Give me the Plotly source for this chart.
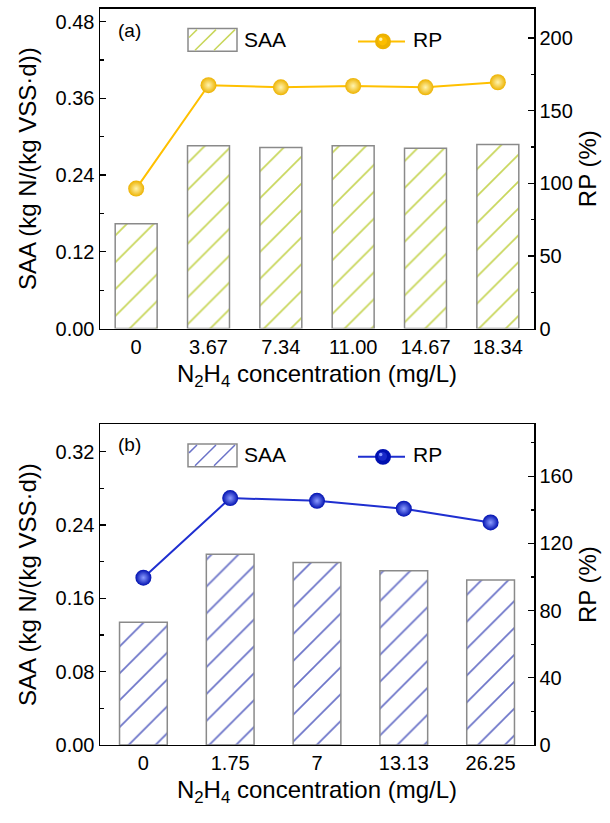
import plotly.graph_objects as go

# ---------------- data ----------------
conc_a = ["0", "3.67", "7.34", "11.00", "14.67", "18.34"]
saa_a = [0.164, 0.286, 0.283, 0.286, 0.282, 0.288]
rp_a = [96.3, 167.5, 166.0, 167.0, 166.0, 169.5]

conc_b = ["0", "1.75", "7", "13.13", "26.25"]
saa_b = [0.134, 0.208, 0.199, 0.190, 0.180]
rp_b = [99.6, 147.0, 145.4, 140.7, 132.5]

# ---------------- style ----------------
W, H = 610, 823
FONT = "Liberation Sans, Arial, sans-serif"
TICK = 20
TITLE = 24
LEG = 21

hatch_a = "#c8d65a"
line_a = "#FFC000"
mk_a = "#EDB200"
mkc_a = "#FFF4B0"

hatch_b = "#6b73c8"
line_b = "#1f2fd0"
mk_b = "#0010B0"
mkc_b = "#8C9CFF"


def fx(x):
    return x / W


def fy(y):
    return 1 - y / H


fig = go.Figure()


def add_panel(cats, saa, rp, xa, ya, ya2, hatch, lc, mc, mcc, bw):
    fig.add_trace(go.Bar(
        x=cats, y=saa, xaxis=xa, yaxis=ya, width=bw, showlegend=False,
        marker=dict(color="white", line=dict(color="#8a8a8a", width=1.5),
                    pattern=dict(shape="/", fgcolor=hatch, bgcolor="white",
                                 size=19, solidity=0.09, fillmode="replace")),
    ))
    fig.add_trace(go.Scatter(
        x=cats, y=rp, xaxis=xa, yaxis=ya2, mode="lines+markers", showlegend=False,
        line=dict(color=lc, width=2),
        marker=dict(size=16, color=mc, line=dict(width=0),
                    gradient=dict(type="radial", color=mcc)),
    ))


add_panel(conc_a, saa_a, rp_a, "x", "y", "y2", hatch_a, line_a, mk_a, mkc_a, 0.58)
add_panel(conc_b, saa_b, rp_b, "x2", "y3", "y4", hatch_b, line_b, mk_b, mkc_b, 0.55)

axis_common = dict(showline=True, linecolor="black", linewidth=1.5, showgrid=False,
                   zeroline=False, tickfont=dict(family=FONT, size=TICK, color="black"))
ytick = dict(ticks="inside", ticklen=6, tickwidth=1.3, tickcolor="black")

xtitle = dict(text="N<sub>2</sub>H<sub>4</sub> concentration (mg/L)",
              font=dict(family=FONT, size=TITLE, color="black"), standoff=8)
ltitle = dict(text="SAA (kg N/(kg VSS·d))", font=dict(family=FONT, size=TITLE, color="black"),
              standoff=12)
rtitle = dict(text="RP (%)", font=dict(family=FONT, size=TITLE, color="black"), standoff=7)

top_a, bot_a = 9, 333
top_b, bot_b = 430, 755
xl, xr = 100, 534

fig.update_layout(
    width=W, height=H, margin=dict(l=0, r=0, t=0, b=0),
    paper_bgcolor="white", plot_bgcolor="white", hovermode=False,
    font=dict(family=FONT, color="black"),
    xaxis=dict(domain=[fx(xl), fx(xr)], anchor="y", type="category", mirror=True,
               ticks="", range=[-0.5, 5.5], title=xtitle, **axis_common),
    yaxis=dict(domain=[fy(bot_a), fy(top_a)], anchor="x", range=[0, 0.5],
               tick0=0, dtick=0.12, tickformat=".2f",
               minor=dict(dtick=0.06, tick0=0, ticks="inside", ticklen=3.5, tickcolor="black"),
               title=ltitle, **ytick, **axis_common),
    yaxis2=dict(overlaying="y", side="right", anchor="x", range=[0, 220],
                tick0=0, dtick=50,
                minor=dict(dtick=25, tick0=0, ticks="inside", ticklen=3.5, tickcolor="black"),
                title=rtitle, **ytick, **axis_common),
    xaxis2=dict(domain=[fx(xl), fx(xr)], anchor="y3", type="category", mirror=True,
                ticks="", range=[-0.5, 4.5], title=xtitle, **axis_common),
    yaxis3=dict(domain=[fy(bot_b), fy(top_b)], anchor="x2", range=[0, 0.35],
                tick0=0, dtick=0.08, tickformat=".2f",
                minor=dict(dtick=0.04, tick0=0, ticks="inside", ticklen=3.5, tickcolor="black"),
                title=ltitle, **ytick, **axis_common),
    yaxis4=dict(overlaying="y3", side="right", anchor="x2", range=[0, 191],
                tick0=0, dtick=40,
                minor=dict(dtick=20, tick0=0, ticks="inside", ticklen=3.5, tickcolor="black"),
                title=rtitle, **ytick, **axis_common),
)

shapes = []
annots = []


def legend(y_box_top, y_row, label, hatch, lc, mc, mcc):
    bx0, bx1 = 188, 237
    by0, by1 = y_box_top, y_box_top + 23
    shapes.append(dict(type="rect", xref="paper", yref="paper",
                       x0=fx(bx0), x1=fx(bx1), y0=fy(by1), y1=fy(by0),
                       line=dict(color="#8a8a8a", width=1.5), fillcolor="white"))
    for sx in (bx0 - 12, bx0 + 7, bx0 + 26):
        x0, y0 = sx, by1 - 1
        x1, y1 = sx + 21, by0 + 1
        if x0 < bx0 + 1:
            y0 = y0 - (bx0 + 1 - x0)
            x0 = bx0 + 1
        if x1 > bx1 - 1:
            y1 = y1 + (x1 - (bx1 - 1))
            x1 = bx1 - 1
        shapes.append(dict(type="line", xref="paper", yref="paper",
                           x0=fx(x0), x1=fx(x1), y0=fy(y0), y1=fy(y1),
                           line=dict(color=hatch, width=1.5)))
    annots.append(dict(text="SAA", xref="paper", yref="paper", x=fx(242), y=fy(y_row),
                       xanchor="left", yanchor="middle", showarrow=False,
                       font=dict(family=FONT, size=LEG, color="black")))
    cy = y_row + 2
    shapes.append(dict(type="line", xref="paper", yref="paper",
                       x0=fx(358), x1=fx(405), y0=fy(cy), y1=fy(cy),
                       line=dict(color=lc, width=2)))
    cx = 383
    shapes.append(dict(type="circle", xref="paper", yref="paper",
                       x0=fx(cx - 8), x1=fx(cx + 8), y0=fy(cy + 8), y1=fy(cy - 8),
                       fillcolor=mc, line=dict(width=0)))
    shapes.append(dict(type="circle", xref="paper", yref="paper",
                       x0=fx(cx - 5), x1=fx(cx + 4), y0=fy(cy + 4), y1=fy(cy - 5),
                       fillcolor=lc, line=dict(width=0), opacity=0.8))
    shapes.append(dict(type="circle", xref="paper", yref="paper",
                       x0=fx(cx - 4), x1=fx(cx - 0.5), y0=fy(cy - 0.5), y1=fy(cy - 4),
                       fillcolor=mcc, line=dict(width=0)))
    annots.append(dict(text=label, xref="paper", yref="paper", x=fx(411), y=fy(y_row),
                       xanchor="left", yanchor="middle", showarrow=False,
                       font=dict(family=FONT, size=LEG, color="black")))


legend(29, 40, "RP", hatch_a, line_a, mk_a, mkc_a)
legend(450, 461, "RP", hatch_b, line_b, mk_b, mkc_b)

annots.append(dict(text="(a)", xref="paper", yref="paper", x=fx(116), y=fy(31),
                   xanchor="left", yanchor="middle", showarrow=False,
                   font=dict(family=FONT, size=19, color="black")))
annots.append(dict(text="(b)", xref="paper", yref="paper", x=fx(116), y=fy(451),
                   xanchor="left", yanchor="middle", showarrow=False,
                   font=dict(family=FONT, size=19, color="black")))

fig.update_layout(shapes=shapes, annotations=annots)

fig.write_html(
    "out.html",
    config={"displayModeBar": False, "staticPlot": True},
    post_script="document.body.style.margin='0';"
                "document.body.style.overflow='hidden';"
                "document.documentElement.style.overflow='hidden';",
)
